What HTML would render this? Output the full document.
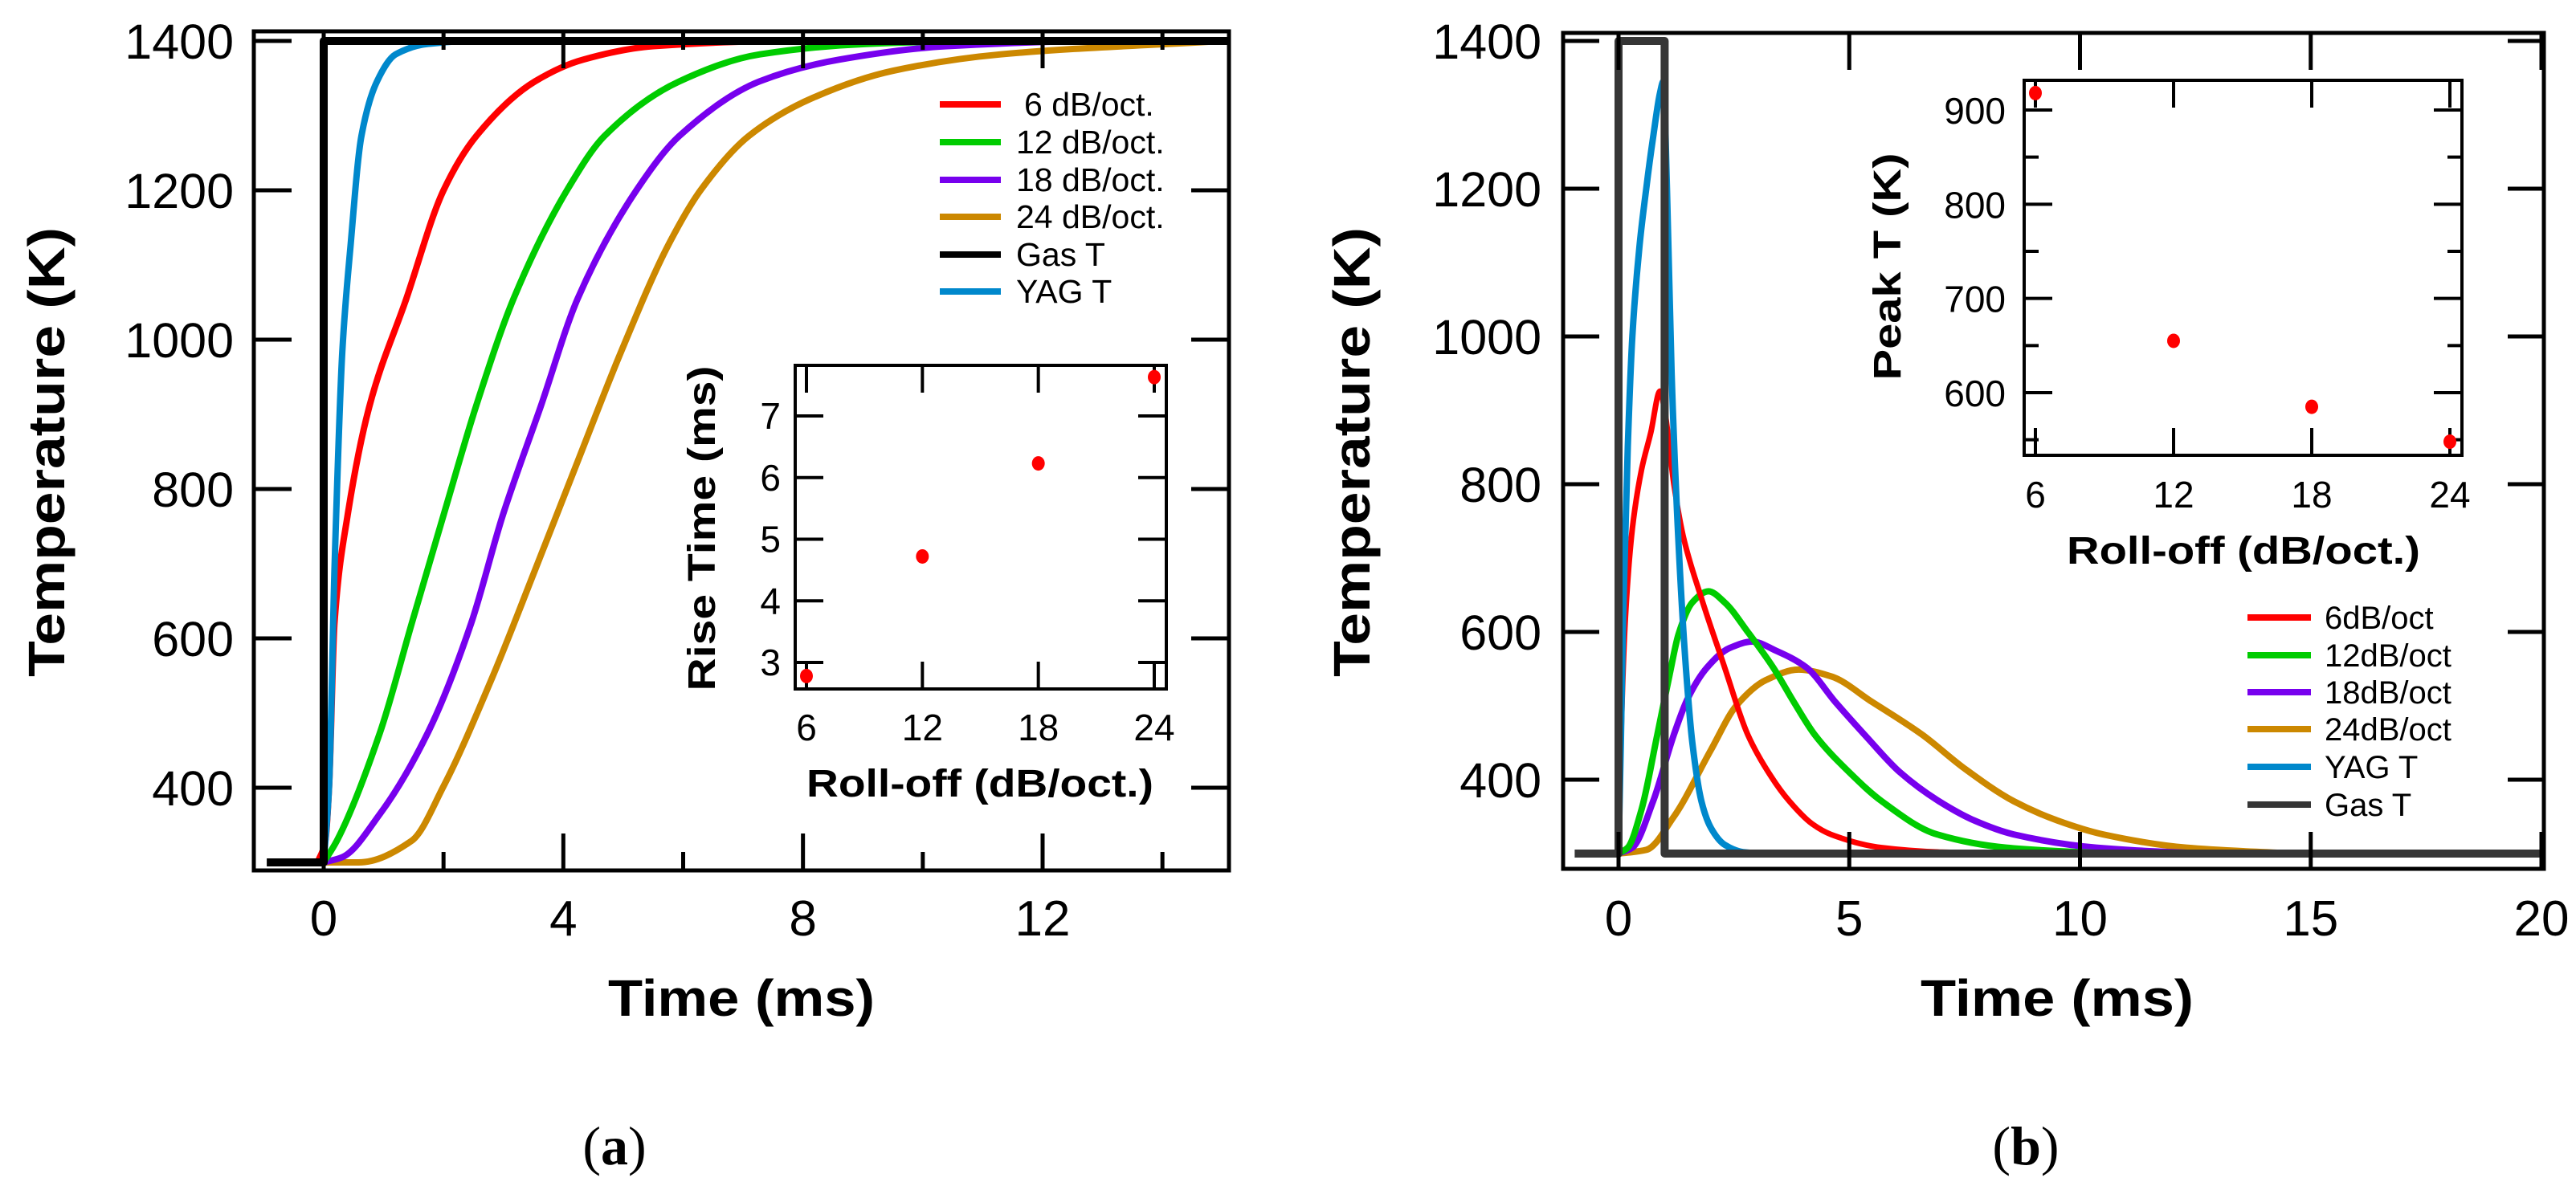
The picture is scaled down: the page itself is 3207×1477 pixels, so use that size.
<!DOCTYPE html>
<html><head><meta charset="utf-8"><style>
html,body{margin:0;padding:0;background:#fff;}
svg{display:block;}
text{font-family:"Liberation Sans",Arial,sans-serif;fill:#000;}
</style></head><body>
<svg id="fig" xmlns="http://www.w3.org/2000/svg" width="3207" height="1477" viewBox="0 0 3207 1477"></svg>
<script>
// ---------- Panel (a) data ----------
const aRed_t   = [-0.1,0.03,0.09,0.18,0.4,0.76,1.38,2.0,2.55,3.53,4.33,5.5,7.7,15];
const aRed_T   = [300,330,402,620,765,910,1055,1200,1273,1346,1375,1393,1400,1400];
const aGreen_t = [0,0.22,0.94,1.47,2.0,2.54,3.17,4.06,4.69,5.94,7.28,9.06,11,15];
const aGreen_T = [300,329,474,620,765,910,1055,1200,1273,1346,1382,1396,1400,1400];
const aPurple_t= [0,0.31,0.94,1.74,2.46,2.99,3.62,4.24,5.22,5.94,7.28,8.6,10.4,13,15];
const aPurple_T= [300,307,365,474,620,765,910,1055,1200,1273,1346,1375,1393,1400,1400];
const aOrange_t= [0,0.58,1.47,2.0,2.81,3.53,4.24,4.96,5.76,6.29,7.1,8.17,9.5,11.3,15];
const aOrange_T= [300,300,329,402,547,692,837,983,1128,1200,1273,1324,1360,1382,1400];
const aBlue_t  = [0,0.09,0.18,0.31,0.45,0.63,0.89,1.2,1.74,2.5,15];
const aBlue_T  = [300,402,692,983,1128,1273,1346,1382,1396,1400,1400];
const aGas_t   = [-0.95,0,0,15.1];
const aGas_T   = [300,300,1400,1400];
const aXTicks  = [0,4,8,12];
const aXMinor  = [2,6,10,14];
const yTicks   = [400,600,800,1000,1200,1400];
// inset (a)
const insA_x   = [6,12,18,24];
const insA_y   = [2.78,4.72,6.23,7.63];
const insA_yTicks = [3,4,5,6,7];
const roll_ticks  = [6,12,18,24];
// ---------- Panel (b) data ----------
const bRed_t   = [0,0.05,0.15,0.3,0.5,0.7,0.9,1.0,1.2,1.4,1.8,2.3,2.8,3.3,3.7,4.2,4.6,5.7,7,9,20];
const bRed_T   = [300,450,620,740,820,870,926,900,800,730,645,552,461,405,371,340,326,308,302,300,300];
const bGreen_t = [0,0.2,0.5,0.84,1.1,1.3,1.6,1.95,2.3,2.8,3.35,3.8,4.25,5,5.7,6.9,8.4,10,11,20];
const bGreen_T = [300,308,360,461,540,597,640,655,640,600,552,505,461,410,371,326,308,302,300,300];
const bPurple_t= [0,0.3,0.75,1.2,1.5,1.92,2.4,2.9,3.4,4.07,4.7,5.33,6.1,6.94,7.7,8.56,10.35,12,13,20];
const bPurple_T= [300,308,371,461,510,552,578,587,575,552,505,461,410,371,345,326,308,302,300,300];
const bOrange_t= [0,0.6,1.2,2.0,2.55,3.2,3.9,4.6,5.5,6.58,7.5,8.56,9.5,10.5,12.3,14.6];
const bOrange_T= [300,305,350,440,500,535,549,540,505,461,415,371,345,326,308,300];
const bBlue_t  = [0,0.05,0.1,0.2,0.3,0.45,0.6,0.75,0.9,0.97,1.05,1.15,1.3,1.45,1.6,1.8,2.0,2.3,2.7,3.2,20];
const bBlue_T  = [300,450,620,850,1000,1120,1200,1270,1330,1345,1200,950,720,560,450,370,335,312,302,300,300];
const bGas_t   = [-0.95,0,0,1,1,20];
const bGas_T   = [300,300,1400,1400,300,300];
const bXTicks  = [0,5,10,15,20];
// inset (b)
const insB_x   = [6,12,18,24];
const insB_y   = [918,655,585,548];
const insB_yTicks = [600,700,800,900];
const insB_yMinor = [550,650,750,850];

const NS="http://www.w3.org/2000/svg";
const svg=document.getElementById('fig');
function mk(tag,attrs,parent){const e=document.createElementNS(NS,tag);for(const k in attrs)e.setAttribute(k,attrs[k]);(parent||svg).appendChild(e);return e;}
function lin(d0,d1,p0,p1){return v=>p0+(v-d0)*(p1-p0)/(d1-d0);}

const axA=lin(0,12,403,1298), ayA=lin(1400,400,51,981);
const axB=lin(0,20,2015,3164), ayB=lin(1400,400,51,971);
const ixA=lin(6,24,1004,1437), iyA=lin(7,3,518,825);
const ixB=lin(6,24,2534,3050), iyB=lin(900,600,137,489);

const defs=mk('defs',{});
const cpA=mk('clipPath',{id:'clipA'},defs); mk('rect',{x:318,y:41,width:1210,height:1041},cpA);
const cpB=mk('clipPath',{id:'clipB'},defs); mk('rect',{x:1948,y:43,width:1217,height:1037},cpB);

function smoothPath(px,py){
  const n=px.length; if(n<3){let d='M'+px[0]+' '+py[0];for(let i=1;i<n;i++)d+='L'+px[i]+' '+py[i];return d;}
  const dx=[],s=[];for(let i=0;i<n-1;i++){dx.push(px[i+1]-px[i]);s.push((py[i+1]-py[i])/(dx[i]||1e-9));}
  const m=[s[0]];for(let i=1;i<n-1;i++){m.push(s[i-1]*s[i]<=0?0:(3*(dx[i-1]+dx[i]))/((2*dx[i]+dx[i-1])/s[i-1]+(dx[i]+2*dx[i-1])/s[i]));}
  m.push(s[n-2]);
  let d='M'+px[0].toFixed(1)+' '+py[0].toFixed(1);
  for(let i=0;i<n-1;i++){const h=dx[i]/3;
    d+='C'+(px[i]+h).toFixed(1)+' '+(py[i]+m[i]*h).toFixed(1)+' '+(px[i+1]-h).toFixed(1)+' '+(py[i+1]-m[i+1]*h).toFixed(1)+' '+px[i+1].toFixed(1)+' '+py[i+1].toFixed(1);}
  return d;
}
function series(ts,Ts,xs,ys,color,w,name,clip,sharp){
  const px=ts.map(xs),py=Ts.map(ys);let d;
  if(sharp){d='';for(let i=0;i<px.length;i++)d+=(i?'L':'M')+px[i].toFixed(1)+' '+py[i].toFixed(1);}
  else d=smoothPath(px,py);
  const p=mk('path',{d:d,fill:'none',stroke:color,'stroke-width':w,'stroke-linejoin':'round','clip-path':'url(#'+clip+')'});
  
  
  return p;
}
function txt(x,y,s,size,opts){const t=mk('text',Object.assign({x:x,y:y,'font-size':size},opts||{}));t.textContent=s;return t;}
function frame(x,y,w,h,sw,name){
  const r=mk('rect',{x:x,y:y,width:w,height:h,fill:'none',stroke:'#000','stroke-width':sw});
  
  
}
function tick(x1,y1,x2,y2,sw){mk('line',{x1:x1,y1:y1,x2:x2,y2:y2,stroke:'#000','stroke-width':sw});}

// ================= Panel A =================
const L=316,R=1530,T=39,B=1084;
series(aOrange_t,aOrange_T,axA,ayA,'#cc8800',8,'series-24db','clipA');
series(aPurple_t,aPurple_T,axA,ayA,'#7700ee',8,'series-18db','clipA');
series(aGreen_t,aGreen_T,axA,ayA,'#00cc00',8,'series-12db','clipA');
series(aRed_t,aRed_T,axA,ayA,'#ff0000',8,'series-6db','clipA');
series(aBlue_t,aBlue_T,axA,ayA,'#0088cc',8,'series-yag-t','clipA');
series(aGas_t,aGas_T,axA,ayA,'#000000',10,'series-gas-t','clipA',true);
frame(L,T,R-L,B-T,5,'plot-a-frame');
yTicks.forEach(v=>{const y=ayA(v);tick(L,y,L+47,y,5);tick(R,y,R-47,y,5);
  const t=txt(291,y+22,String(v),61,{'text-anchor':'end'});
  
  });
aXTicks.forEach(v=>{const x=axA(v);tick(x,B,x,B-46,5);tick(x,T,x,T+46,5);
  const t=txt(x,1165,String(v),62,{'text-anchor':'middle'});
  
  });
aXMinor.forEach(v=>{const x=axA(v);if(x<R-5){tick(x,B,x,B-23,5);tick(x,T,x,T+23,5);}});
let e;
e=txt(757,1265,'Time (ms)',64,{'font-weight':'bold',textLength:332,lengthAdjust:'spacingAndGlyphs'});


e=txt(0,0,'Temperature (K)',64,{'font-weight':'bold',textLength:560,lengthAdjust:'spacingAndGlyphs','text-anchor':'middle',transform:'translate(80,563) rotate(-90)'});



const legA=[['#ff0000','6  dB/oct.'],['#00cc00','12 dB/oct.'],['#7700ee','18 dB/oct.'],['#cc8800','24 dB/oct.'],['#000000','Gas T'],['#0088cc','YAG T']];
const legAy=[130,177,224,270,317,363];
legA.forEach((l,i)=>{
  const g=mk('g',{});
  
  
  mk('line',{x1:1170,y1:legAy[i],x2:1246,y2:legAy[i],stroke:l[0],'stroke-width':8},g);
  const t=mk('text',{x:(i===0?1275:1265),y:legAy[i]+14,'font-size':41,'xml:space':'preserve'},g);
  t.textContent=l[1];
});

mk('rect',{x:990,y:455,width:462,height:403,fill:'#fff',stroke:'none'});
frame(990,455,462,403,4,'inset-a-frame');
insA_yTicks.forEach(v=>{const y=iyA(v);tick(990,y,1025,y,4);tick(1452,y,1417,y,4);
  const t=txt(972,y+16,String(v),46,{'text-anchor':'end'});
  
  });
roll_ticks.forEach(v=>{const x=ixA(v);tick(x,858,x,824,4);tick(x,455,x,489,4);
  const t=txt(x,922,String(v),46,{'text-anchor':'middle'});
  
  });
insA_x.forEach((v,i)=>{const c=mk('ellipse',{cx:ixA(v),cy:iyA(insA_y[i]),rx:8,ry:9,fill:'#ff0000'});
  
  });
e=txt(1004,992,'Roll-off (dB/oct.)',48,{'font-weight':'bold',textLength:432,lengthAdjust:'spacingAndGlyphs'});


e=txt(0,0,'Rise Time (ms)',48,{'font-weight':'bold',textLength:405,lengthAdjust:'spacingAndGlyphs','text-anchor':'middle',transform:'translate(890,658) rotate(-90)'});



// ================= Panel B =================
const L2=1946,R2=3167,T2=41,B2=1082;
series(bOrange_t,bOrange_T,axB,ayB,'#cc8800',8,'series-24db-b','clipB');
series(bPurple_t,bPurple_T,axB,ayB,'#7700ee',8,'series-18db-b','clipB');
series(bGreen_t,bGreen_T,axB,ayB,'#00cc00',8,'series-12db-b','clipB');
series(bRed_t,bRed_T,axB,ayB,'#ff0000',7,'series-6db-b','clipB');
series(bBlue_t,bBlue_T,axB,ayB,'#0088cc',8,'series-yag-t-b','clipB');
series(bGas_t,bGas_T,axB,ayB,'#363636',10,'series-gas-t-b','clipB',true);
frame(L2,T2,R2-L2,B2-T2,5,'plot-b-frame');
yTicks.forEach(v=>{const y=ayB(v);tick(L2,y,L2+45,y,5);tick(R2,y,R2-45,y,5);
  const t=txt(1919,y+22,String(v),61,{'text-anchor':'end'});
  
  });
bXTicks.forEach(v=>{const x=axB(v);tick(x,B2,x,B2-46,5);tick(x,T2,x,T2+46,5);
  const t=txt(x,1165,String(v),62,{'text-anchor':'middle'});
  
  });
e=txt(2391,1265,'Time (ms)',64,{'font-weight':'bold',textLength:340,lengthAdjust:'spacingAndGlyphs'});


e=txt(0,0,'Temperature (K)',64,{'font-weight':'bold',textLength:560,lengthAdjust:'spacingAndGlyphs','text-anchor':'middle',transform:'translate(1705,563) rotate(-90)'});



const legB=[['#ff0000','6dB/oct'],['#00cc00','12dB/oct'],['#7700ee','18dB/oct'],['#cc8800','24dB/oct'],['#0088cc','YAG T'],['#363636','Gas T']];
const legBy=[769,816,862,908,955,1002];
legB.forEach((l,i)=>{
  const g=mk('g',{});
  
  
  mk('line',{x1:2798,y1:legBy[i],x2:2877,y2:legBy[i],stroke:l[0],'stroke-width':8},g);
  const t=mk('text',{x:2894,y:legBy[i]+14,'font-size':40},g);
  t.textContent=l[1];
});

frame(2520,100,545,467,4,'inset-b-frame');
insB_yTicks.forEach(v=>{const y=iyB(v);tick(2520,y,2555,y,4);tick(3065,y,3030,y,4);
  const t=txt(2497,y+17,String(v),46,{'text-anchor':'end'});
  
  });
insB_yMinor.forEach(v=>{const y=iyB(v);tick(2520,y,2538,y,4);tick(3065,y,3047,y,4);});
roll_ticks.forEach(v=>{const x=ixB(v);tick(x,567,x,533,4);tick(x,100,x,134,4);
  const t=txt(x,632,String(v),46,{'text-anchor':'middle'});
  
  });
insB_x.forEach((v,i)=>{const c=mk('ellipse',{cx:ixB(v),cy:iyB(insB_y[i]),rx:8,ry:9,fill:'#ff0000'});
  
  });
e=txt(2573,702,'Roll-off (dB/oct.)',48,{'font-weight':'bold',textLength:440,lengthAdjust:'spacingAndGlyphs'});


e=txt(0,0,'Peak T (K)',48,{'font-weight':'bold',textLength:283,lengthAdjust:'spacingAndGlyphs','text-anchor':'middle',transform:'translate(2366,332) rotate(-90)'});



// captions (serif via style to override CSS)
function caption(x,letter,name){
  const t=mk('text',{x:x,y:1450,'font-size':68,'text-anchor':'middle',style:'font-family:"Liberation Serif",serif'});
  
  
  const a=mk('tspan',{},t);a.textContent='(';
  const b=mk('tspan',{'font-weight':'bold'},t);b.textContent=letter;
  const c=mk('tspan',{},t);c.textContent=')';
}
caption(765,'a','caption-a');
caption(2522,'b','caption-b');
</script>
</body></html>
